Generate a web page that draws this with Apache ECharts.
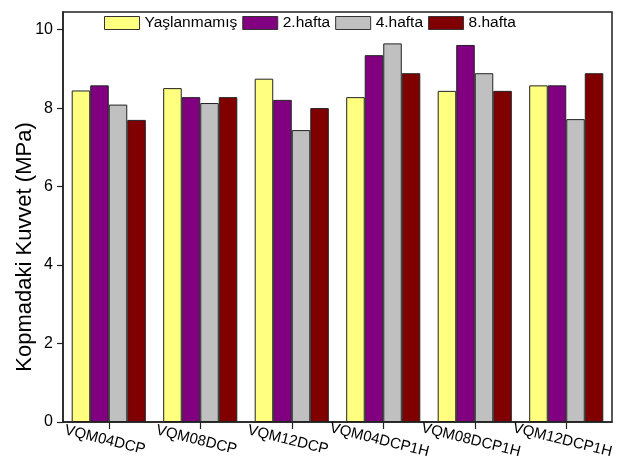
<!DOCTYPE html>
<html><head><meta charset="utf-8">
<script src="https://cdn.jsdelivr.net/npm/echarts@6/dist/echarts.min.js"></script>
<style>html,body{margin:0;padding:0;background:#fff}#c{width:624px;height:468px}</style>
</head><body><div id="c"></div>
<script>
const categories = ['VQM04DCP','VQM08DCP','VQM12DCP','VQM04DCP1H','VQM08DCP1H','VQM12DCP1H'];
const seriesNames = ['Yaşlanmamış','2.hafta','4.hafta','8.hafta'];
const yaslanmamis = [8.45, 8.51, 8.75, 8.28, 8.44, 8.58];
const hafta2 = [8.58, 8.28, 8.21, 9.35, 9.61, 8.58];
const hafta4 = [8.09, 8.13, 7.44, 9.65, 8.89, 7.72];
const hafta8 = [7.70, 8.28, 8.00, 8.89, 8.44, 8.89];
const yTicks = [0, 2, 4, 6, 8, 10];
const colors = ['#FFFF80', '#800080', '#C0C0C0', '#800000'];

const font = '"Liberation Sans", Arial, sans-serif';
const values = [yaslanmamis, hafta2, hafta4, hafta8];
const chart = echarts.init(document.getElementById('c'), null, {renderer: 'canvas'});
chart.setOption({
  animation: false,
  backgroundColor: '#fff',
  color: colors,
  textStyle: {fontFamily: font},
  grid: {left: 63, right: 12, top: 12, bottom: 46, show: true, borderColor: '#222', borderWidth: 1.5,
    backgroundColor: 'transparent', containLabel: false, outerBoundsMode: 'none'},
  legend: {
    left: 104, top: 15, itemWidth: 35, itemHeight: 13, itemGap: 5, icon: 'rect', padding: 0,
    textStyle: {fontSize: 15.5, color: '#000', fontFamily: font},
    data: seriesNames,
    itemStyle: {borderColor: '#333', borderWidth: 1}
  },
  xAxis: {
    type: 'category', data: categories,
    axisLine: {show: true, lineStyle: {color: '#222', width: 1.5}},
    axisTick: {show: true, alignWithLabel: true, length: 7, lineStyle: {color: '#222', width: 1.2}},
    axisLabel: {show: true, interval: 0, rotate: -14, align: 'center', verticalAlign: 'middle', margin: 19,
      padding: [0, 8, 0, 0], fontSize: 15, color: '#000', fontFamily: font},
    splitLine: {show: false}
  },
  yAxis: {
    type: 'value', min: 0, max: 10.45, interval: 2,
    name: 'Kopmadaki Kuvvet (MPa)', nameLocation: 'middle', nameGap: 27, nameMoveOverlap: false,
    nameTextStyle: {fontSize: 22, color: '#000', fontFamily: font, padding: [0, 60, 0, 0]},
    axisLine: {show: true, lineStyle: {color: '#222', width: 1.5}},
    axisTick: {show: true, length: 6, lineStyle: {color: '#222', width: 1.2}},
    axisLabel: {fontSize: 16, color: '#000', margin: 10, showMaxLabel: false, fontFamily: font,
      formatter: function (v) { return yTicks.indexOf(v) >= 0 ? String(v) : ''; }},
    splitLine: {show: false}
  },
  series: seriesNames.map((n, k) => ({
    name: n, type: 'bar', data: values[k],
    barGap: '0%', barCategoryGap: '19%',
    itemStyle: {color: colors[k], borderColor: '#222', borderWidth: 1}
  }))
});
</script></body></html>
